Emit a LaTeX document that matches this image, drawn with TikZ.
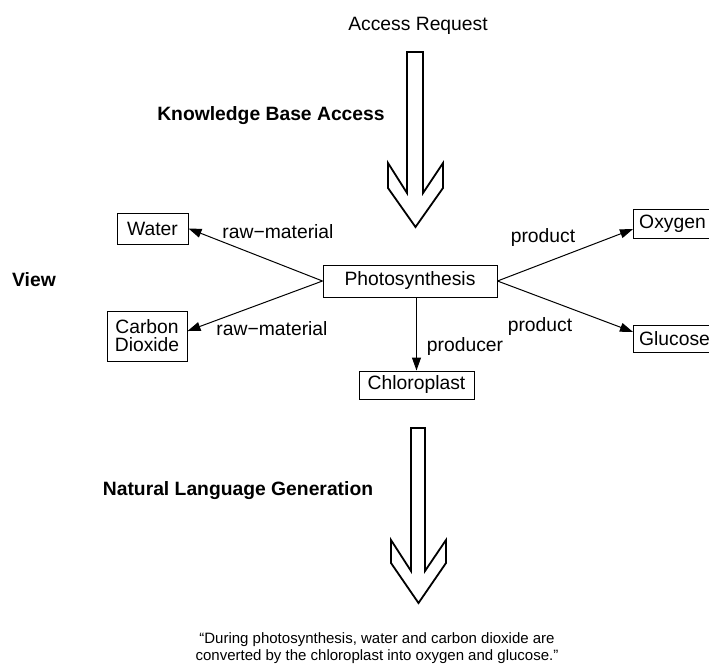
\documentclass[tikz,border=0pt]{standalone}
\usepackage{fontspec}
\setmainfont{Liberation Sans}
\usepackage{tikz}
\usetikzlibrary{arrows.meta, shapes}
\tikzstyle{concept} = [rectangle, draw = black, line width = 0.5pt, inner sep = 0pt,
text centered, font = \fontsize{9.65}{11}\selectfont]
\tikzstyle{relname} = [inner sep = 0pt, anchor = base, font = \fontsize{9.65}{11}\selectfont]
\tikzstyle{stage} = [inner sep = 0pt, anchor = base, font = \fontsize{9.65}{11}\selectfont\bfseries]
\tikzstyle{rel} = [line width = 0.5pt, -{Triangle[length = 6.5pt, width = 4.5pt]}]
\tikzstyle{bigarrow} = [line width = 0.9pt, line join = miter]

\begin{document}
\begin{tikzpicture}[x = 0.5pt, y = -0.5pt]

    \useasboundingbox (0,0) rectangle (709,670);

    \node (request) [relname] at (418,30) {Access Request};
    \node (kbaccess) [stage] at (271,120) {Knowledge Base Access};
    \node (view) [stage] at (34,286) {View};
    \node (nlgen) [stage] at (238,495) {Natural Language Generation};

    \draw[bigarrow] (407,52) -- (407,193) -- (388,163) -- (388,188) -- (415.5,227)
        -- (443,188) -- (443,163) -- (423,193) -- (423,52) -- cycle;

    \node (photo) [concept, minimum width = 87pt, minimum height = 16pt] at (410,281) {Photosynthesis};
    \node (water) [concept, minimum width = 35.5pt, minimum height = 15.5pt] at (152.5,228.5) {Water};
    \node (carbon) [concept, minimum width = 40pt, minimum height = 25pt, align = center,
        font = \fontsize{9.65}{9}\selectfont] at (147,336) {Carbon\\Dioxide};
    \node (chloro) [concept, minimum width = 57.5pt, minimum height = 14pt] at (416.5,385) {Chloroplast};
    \node (oxygen) [concept, minimum width = 39pt, minimum height = 14.5pt, anchor = west] at (633,223.5) {Oxygen};
    \node (glucose) [concept, minimum width = 41pt, minimum height = 13.5pt, anchor = west] at (633,338.5) {Glucose};

    \node (raw1) [relname] at (278,238) {raw−material};
    \node (raw2) [relname] at (272,335) {raw−material};
    \node (prod1) [relname] at (543,242) {product};
    \node (prod2) [relname] at (540,331) {product};
    \node (producer) [relname] at (465,351) {producer};

    \draw[rel] (photo.west) -- (water.east);
    \draw[rel] (photo.west) -- (carbon.7);
    \draw[rel] (photo.east) -- (oxygen.188);
    \draw[rel] (photo.east) -- (glucose.171);
    \draw[rel] (chloro.north |- photo.south) -- (chloro.north);

    \draw[bigarrow] (411,428) -- (411,571) -- (391,540) -- (391,563) -- (418.5,603)
        -- (446,563) -- (446,540) -- (425,571) -- (425,428) -- cycle;

    \node (sentence) [align = center, inner sep = 0pt, anchor = north,
        font = \fontsize{7.5}{8.5}\selectfont] at (377,632)
        {``During photosynthesis, water and carbon dioxide are\\converted by the chloroplast into oxygen and glucose.''};

\end{tikzpicture}
\end{document}
